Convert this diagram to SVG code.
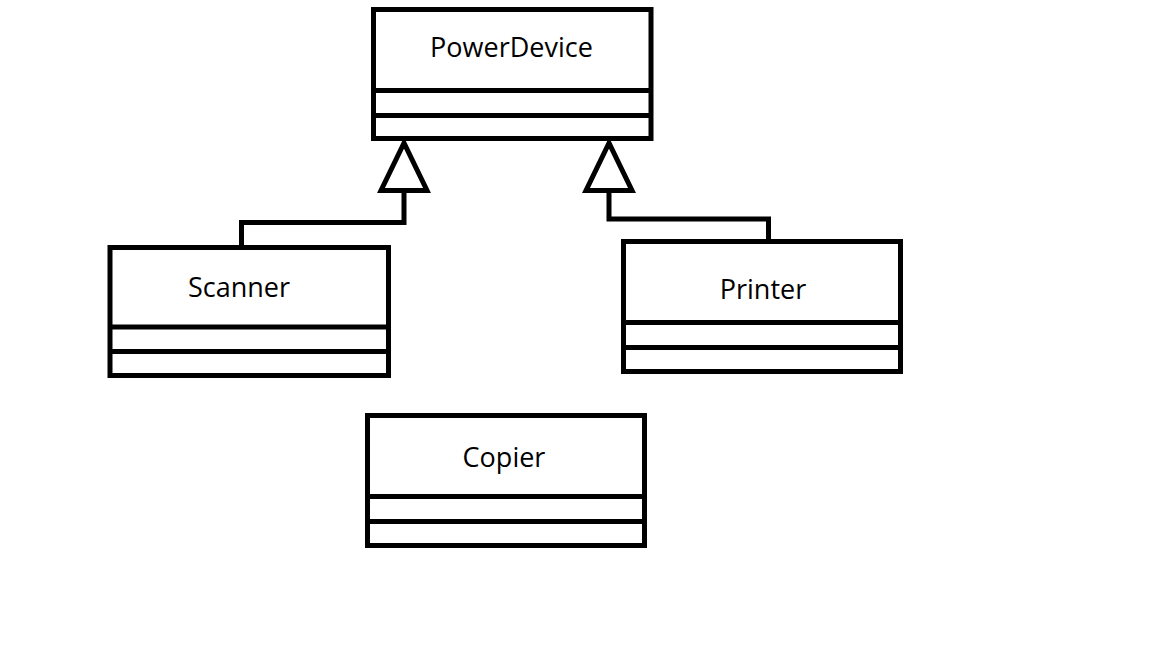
<svg xmlns="http://www.w3.org/2000/svg" width="1152" height="648" viewBox="0 0 1152 648">
<style>
.box{fill:#fff;stroke:#000;stroke-width:5}
.div{stroke:#000;stroke-width:5}
.lbl{font-family:"Open Sans","Noto Sans","Liberation Sans",sans-serif;font-size:27px;fill:#000;text-anchor:middle}
.con{fill:none;stroke:#000;stroke-width:5;stroke-linecap:square;stroke-linejoin:miter}
.tri{fill:#fff;stroke:#000;stroke-width:5;stroke-linejoin:miter}
</style>
<rect width="1152" height="648" fill="#fff"/>
<g id="PowerDevice">
<rect class="box" x="373.5" y="9.5" width="277.5" height="129"/>
<line class="div" x1="373.5" y1="90.5" x2="651" y2="90.5"/>
<line class="div" x1="373.5" y1="115.5" x2="651" y2="115.5"/>
<text class="lbl" x="511.5" y="57">PowerDevice</text>
</g>
<g id="Scanner">
<rect class="box" x="110" y="247.5" width="278.5" height="128"/>
<line class="div" x1="110" y1="327" x2="388.5" y2="327"/>
<line class="div" x1="110" y1="351.5" x2="388.5" y2="351.5"/>
<text class="lbl" x="239" y="297">Scanner</text>
</g>
<g id="Printer">
<rect class="box" x="623.5" y="241.5" width="277" height="130"/>
<line class="div" x1="623.5" y1="322.5" x2="900.5" y2="322.5"/>
<line class="div" x1="623.5" y1="347.5" x2="900.5" y2="347.5"/>
<text class="lbl" x="763" y="299">Printer</text>
</g>
<g id="Copier">
<rect class="box" x="367.5" y="415.5" width="277" height="130"/>
<line class="div" x1="367.5" y1="496.5" x2="644.5" y2="496.5"/>
<line class="div" x1="367.5" y1="521.5" x2="644.5" y2="521.5"/>
<text class="lbl" x="504" y="467">Copier</text>
</g>
<g id="connectors">
<polyline class="con" points="241.5,245 241.5,222.5 404,222.5 404,190"/>
<polygon class="tri" points="404,143 381,190.5 427,190.5"/>
<polyline class="con" points="768.5,239 768.5,219 609,219 609,190"/>
<polygon class="tri" points="609,143 586,190.5 632,190.5"/>
</g>
</svg>
